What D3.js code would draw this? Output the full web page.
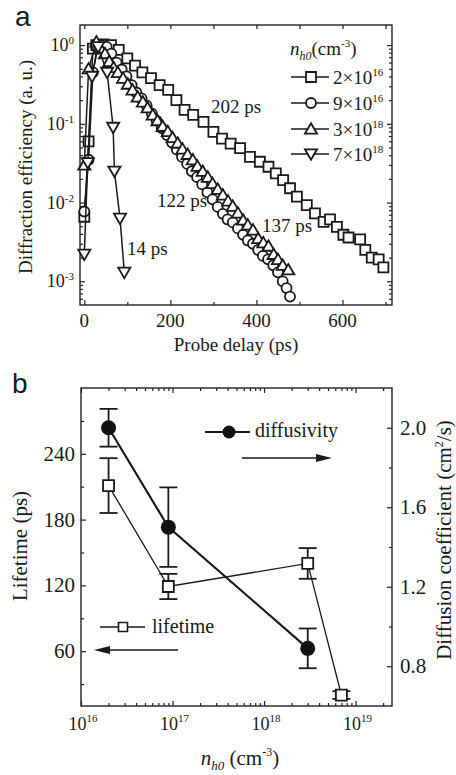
<!DOCTYPE html>
<html>
<head>
<meta charset="utf-8">
<script src="https://cdn.jsdelivr.net/npm/d3@7"></script>
<style>
  body { margin: 0; background: #fff; }
  .domain { display: none; }
  .tick line { stroke: #222; stroke-width: 1.2; }
</style>
</head>
<body>
<svg id="chart" width="456" height="775" font-family="Liberation Serif"></svg>
<script>
// ---- panel a: diffraction efficiency vs probe delay ----
var sqDelay = [0, 10, 20, 28, 45, 62, 80, 100, 118, 135, 155, 175, 195, 214, 233, 253, 277, 300, 320, 340, 362, 385, 408, 428, 445, 462, 478, 494, 517, 536, 556, 571, 587, 602, 614, 641, 653, 668, 684, 695];
var sqEff = [0.0066, 0.06, 0.9, 1.0, 1.02, 1.0, 0.87, 0.68, 0.55, 0.45, 0.38, 0.31, 0.27, 0.2, 0.15, 0.13, 0.106, 0.079, 0.065, 0.056, 0.049, 0.038, 0.033, 0.0285, 0.0235, 0.0193, 0.0152, 0.0119, 0.0093, 0.0073, 0.0057, 0.0061, 0.0049, 0.0039, 0.0036, 0.0034, 0.0025, 0.002, 0.0019, 0.0015];

var ciDelay = [0, 10, 20, 30, 40, 52, 63, 75, 87, 98, 110, 121, 133, 145, 157, 168, 180, 192, 204, 215, 227, 239, 250, 262, 274, 286, 298, 310, 322, 333, 345, 357, 369, 380, 392, 404, 415, 427, 439, 450, 461, 470, 478];
var ciEff = [0.0077, 0.035, 0.45, 0.95, 1.0, 0.95, 0.78, 0.6, 0.49, 0.4, 0.31, 0.25, 0.21, 0.17, 0.135, 0.11, 0.088, 0.072, 0.058, 0.047, 0.038, 0.031, 0.025, 0.021, 0.017, 0.0135, 0.011, 0.0088, 0.0072, 0.0061, 0.0056, 0.0047, 0.0039, 0.0033, 0.003, 0.0025, 0.0021, 0.0019, 0.0016, 0.0013, 0.001, 0.00082, 0.00064];

var upDelay = [0, 10, 28, 38, 48, 58, 68, 78, 90, 101, 112, 124, 136, 147, 159, 170, 182, 194, 205, 217, 228, 240, 252, 263, 275, 287, 298, 310, 322, 334, 345, 357, 369, 380, 392, 404, 416, 428, 440, 450, 461, 474];
var upEff = [0.03, 0.5, 1.1, 0.9, 0.78, 0.62, 0.52, 0.45, 0.38, 0.32, 0.27, 0.22, 0.19, 0.16, 0.13, 0.11, 0.093, 0.08, 0.067, 0.057, 0.048, 0.041, 0.035, 0.029, 0.025, 0.021, 0.0175, 0.0148, 0.0125, 0.0105, 0.009, 0.0074, 0.006, 0.0052, 0.0045, 0.0035, 0.0031, 0.0028, 0.0022, 0.0019, 0.0016, 0.0014];

var dnDelay = [0, 8, 18, 32, 53, 67, 70, 83, 93];
var dnEff = [0.0022, 0.032, 0.4, 0.95, 0.45, 0.09, 0.025, 0.0063, 0.0013];

var densityMant = ["2", "9", "3", "7"];
var densityExp = ["16", "16", "18", "18"];
var decayLabels = ["202 ps", "122 ps", "137 ps", "14 ps"];
var delayTicks = [0, 200, 400, 600];
var effTicks = [1, 0.1, 0.01, 0.001];
var effExp = ["0", "-1", "-2", "-3"];

// ---- panel b: lifetime and diffusivity vs density ----
var density = [2e16, 9e16, 3e18, 7e18];
var lifetime = [211, 119, 140, 20];
var lifetimeErr = [25, 11.5, 14, 3.5];
var diffDensity = [2e16, 9e16, 3e18];
var diffusivity = [2.0, 1.5, 0.89];
var diffusivityErr = [0.095, 0.2, 0.1];
var lifeTicks = [60, 120, 180, 240];
var diffTicks = [0.8, 1.2, 1.6, 2.0];
var densTicks = [1e16, 1e17, 1e18, 1e19];
var densExp = ["16", "17", "18", "19"];

var svg = d3.select("#chart");
var ink = "#1a1a1a";
var serif = "Liberation Serif";

function sup(sel, base, exp, size, supSize, dy) {
  sel.append("tspan").text(base);
  sel.append("tspan").attr("dy", -dy).style("font-size", supSize + "px").text(exp);
}

function markPath(kind, s) {
  var h = s / 2;
  if (kind == "up") return "M0," + (-h * 1.05) + "L" + h * 1.1 + "," + h * 0.85 + "L" + (-h * 1.1) + "," + h * 0.85 + "Z";
  if (kind == "down") return "M0," + (h * 1.05) + "L" + h * 1.1 + "," + (-h * 0.85) + "L" + (-h * 1.1) + "," + (-h * 0.85) + "Z";
  if (kind == "square") return "M" + (-h) + "," + (-h) + "h" + s + "v" + s + "h" + (-s) + "Z";
  return d3.symbol().type(d3.symbolCircle).size(Math.PI * h * h)();
}

// ================= panel a =================
var ax = { l: 80, r: 392, t: 25, b: 305 };
var x = d3.scaleLinear().domain([-10, 715]).range([ax.l, ax.r]);
var y = d3.scaleLog().domain([5e-4, 1.8]).range([ax.b, ax.t]);

var minorA = [];
[1e-4, 1e-3, 1e-2, 1e-1, 1].forEach(function(d) {
  for (var k = 2; k < 10; k++) { var v = d * k; if (v > 5e-4 && v < 1.8) minorA.push(v); }
});

svg.append("g").attr("transform", "translate(0," + ax.b + ")")
  .call(d3.axisBottom(x).tickValues(delayTicks).tickSize(-5).tickFormat(""));
svg.append("g").attr("transform", "translate(0," + ax.b + ")")
  .call(d3.axisBottom(x).tickValues([100, 300, 500, 700]).tickSize(-3).tickFormat(""));
svg.append("g").attr("transform", "translate(0," + ax.t + ")")
  .call(d3.axisTop(x).tickValues([0, 100, 200, 300, 400, 500, 600, 700]).tickSize(-4).tickFormat(""));
[[ax.l, d3.axisLeft, -5, -3], [ax.r, d3.axisRight, -5, -3]].forEach(function(s) {
  svg.append("g").attr("transform", "translate(" + s[0] + ",0)")
    .call(s[1](y).tickValues(effTicks).tickSize(s[2]).tickFormat(""));
  svg.append("g").attr("transform", "translate(" + s[0] + ",0)")
    .call(s[1](y).tickValues(minorA).tickSize(s[3]).tickFormat(""));
});
svg.append("rect").attr("x", ax.l).attr("y", ax.t).attr("width", ax.r - ax.l).attr("height", ax.b - ax.t)
  .attr("fill", "none").attr("stroke", "#222").attr("stroke-width", 1.4);

svg.selectAll(".xla").data(delayTicks).enter().append("text")
  .attr("x", d => x(d)).attr("y", 326.5).attr("text-anchor", "middle")
  .style("font-size", "19px").text(d => d);
effTicks.forEach(function(d, i) {
  var t = svg.append("text").attr("x", 74).attr("y", y(d) + 6).attr("text-anchor", "end").style("font-size", "18px");
  sup(t, "10", effExp[i], 18, 11, 7);
});
svg.append("text").attr("x", 236).attr("y", 351).attr("text-anchor", "middle")
  .style("font-size", "19px").text("Probe delay (ps)");
svg.append("text").attr("transform", "translate(32,167) rotate(-90)").attr("text-anchor", "middle")
  .style("font-size", "19px").text("Diffraction efficiency (a. u.)");

var seriesA = [
  { t: sqDelay, v: sqEff, kind: "square", s: 10 },
  { t: ciDelay, v: ciEff, kind: "circle", s: 10 },
  { t: upDelay, v: upEff, kind: "up", s: 11 },
  { t: dnDelay, v: dnEff, kind: "down", s: 11 }
];
var lineA = d3.line().x(d => x(d[0])).y(d => y(d[1]));
seriesA.forEach(function(s) {
  var pts = s.t.map((t, i) => [t, s.v[i]]);
  svg.append("path").datum(pts).attr("d", lineA).attr("fill", "none").attr("stroke", ink).attr("stroke-width", 1.5);
  svg.selectAll(null).data(pts).enter().append("path")
    .attr("transform", d => "translate(" + x(d[0]) + "," + y(d[1]) + ")")
    .attr("d", markPath(s.kind, s.s)).attr("fill", "#fff").attr("stroke", ink).attr("stroke-width", 1.8);
});

// decay time labels
[[211, 113], [157, 207], [262, 232], [127, 255]].forEach(function(p, i) {
  svg.append("text").attr("x", p[0]).attr("y", p[1]).style("font-size", "19px").text(decayLabels[i]);
});

// legend a
var lt = svg.append("text").attr("x", 290).attr("y", 55).style("font-size", "19px");
lt.append("tspan").style("font-style", "italic").text("n");
lt.append("tspan").attr("dy", 5).style("font-style", "italic").style("font-size", "12px").text("h0");
lt.append("tspan").attr("dy", -5).text("(cm");
lt.append("tspan").attr("dy", -8).style("font-size", "11px").text("-3");
lt.append("tspan").attr("dy", 8).text(")");
var legY = [77, 103, 129, 154];
seriesA.forEach(function(s, i) {
  svg.append("line").attr("x1", 291).attr("x2", 329).attr("y1", legY[i]).attr("y2", legY[i])
    .attr("stroke", ink).attr("stroke-width", 1.5);
  svg.append("path").attr("transform", "translate(311," + legY[i] + ")")
    .attr("d", markPath(s.kind, s.s)).attr("fill", "#fff").attr("stroke", ink).attr("stroke-width", 1.8);
  var t = svg.append("text").attr("x", 333).attr("y", legY[i] + 6.5).style("font-size", "19px");
  sup(t, densityMant[i] + "\u00d710", densityExp[i], 19, 11, 8);
});

// ================= panel b =================
var bx = { l: 81, r: 392, t: 388, b: 706 };
var xb = d3.scaleLog().domain([1e16, 2.5e19]).range([bx.l, bx.r]);
var yl = d3.scaleLinear().domain([10, 300]).range([bx.b, bx.t]);
var yr = d3.scaleLinear().domain([0.6, 2.2]).range([bx.b, bx.t]);

var minorB = [];
[1e16, 1e17, 1e18, 1e19].forEach(function(d) {
  for (var k = 2; k < 10; k++) { var v = d * k; if (v < 2.5e19) minorB.push(v); }
});
[[bx.b, d3.axisBottom], [bx.t, d3.axisTop]].forEach(function(s) {
  svg.append("g").attr("transform", "translate(0," + s[0] + ")")
    .call(s[1](xb).tickValues(densTicks).tickSize(-5).tickFormat(""));
  svg.append("g").attr("transform", "translate(0," + s[0] + ")")
    .call(s[1](xb).tickValues(minorB).tickSize(-3).tickFormat(""));
});
svg.append("g").attr("transform", "translate(" + bx.l + ",0)")
  .call(d3.axisLeft(yl).tickValues(lifeTicks).tickSize(-5).tickFormat(""));
svg.append("g").attr("transform", "translate(" + bx.l + ",0)")
  .call(d3.axisLeft(yl).tickValues([30, 90, 150, 210, 270]).tickSize(-3).tickFormat(""));
svg.append("g").attr("transform", "translate(" + bx.r + ",0)")
  .call(d3.axisRight(yr).tickValues(diffTicks).tickSize(-5).tickFormat(""));
svg.append("g").attr("transform", "translate(" + bx.r + ",0)")
  .call(d3.axisRight(yr).tickValues([1.0, 1.4, 1.8]).tickSize(-3).tickFormat(""));
svg.append("rect").attr("x", bx.l).attr("y", bx.t).attr("width", bx.r - bx.l).attr("height", bx.b - bx.t)
  .attr("fill", "none").attr("stroke", "#222").attr("stroke-width", 1.4);

densTicks.forEach(function(d, i) {
  var t = svg.append("text").attr("x", xb(d) + 2).attr("y", 730).attr("text-anchor", "middle").style("font-size", "18px");
  sup(t, "10", densExp[i], 18, 11, 8);
});
svg.selectAll(".yl").data(lifeTicks).enter().append("text")
  .attr("x", 75).attr("y", d => yl(d) + 7).attr("text-anchor", "end").style("font-size", "21px").text(d => d);
svg.selectAll(".yr").data(diffTicks).enter().append("text")
  .attr("x", 400).attr("y", d => yr(d) + 7).style("font-size", "21px").text(d => d.toFixed(1));

var xt = svg.append("text").attr("x", 240).attr("y", 765).attr("text-anchor", "middle").style("font-size", "21px");
xt.append("tspan").style("font-style", "italic").text("n");
xt.append("tspan").attr("dy", 5).style("font-style", "italic").style("font-size", "13px").text("h0");
xt.append("tspan").attr("dy", -5).text(" (cm");
xt.append("tspan").attr("dy", -9).style("font-size", "12px").text("-3");
xt.append("tspan").attr("dy", 9).text(")");
svg.append("text").attr("transform", "translate(27,546) rotate(-90)").attr("text-anchor", "middle")
  .style("font-size", "21px").text("Lifetime (ps)");
var rt = svg.append("text").attr("transform", "translate(451,540) rotate(-90)").attr("text-anchor", "middle")
  .style("font-size", "21px");
rt.append("tspan").text("Diffusion coefficient (cm");
rt.append("tspan").attr("dy", -8).style("font-size", "12px").text("2");
rt.append("tspan").attr("dy", 8).text("/s)");

// lifetime and diffusivity series
var lifePts = density.map((d, i) => [d, lifetime[i], lifetimeErr[i]]);
var diffPts = diffDensity.map((d, i) => [d, diffusivity[i], diffusivityErr[i]]);
svg.append("path").datum(lifePts).attr("d", d3.line().x(d => xb(d[0])).y(d => yl(d[1])))
  .attr("fill", "none").attr("stroke", ink).attr("stroke-width", 1.3);
svg.append("path").datum(diffPts).attr("d", d3.line().x(d => xb(d[0])).y(d => yr(d[1])))
  .attr("fill", "none").attr("stroke", ink).attr("stroke-width", 2.2);

function errBars(pts, ys) {
  pts.forEach(function(d) {
    var cx = xb(d[0]), y1 = ys(d[1] - d[2]), y2 = ys(d[1] + d[2]);
    var g = svg.append("g").attr("stroke", ink).attr("stroke-width", 1.8);
    g.append("line").attr("x1", cx).attr("x2", cx).attr("y1", y1).attr("y2", y2);
    g.append("line").attr("x1", cx - 9).attr("x2", cx + 9).attr("y1", y1).attr("y2", y1);
    g.append("line").attr("x1", cx - 9).attr("x2", cx + 9).attr("y1", y2).attr("y2", y2);
  });
}
errBars(lifePts, yl);
errBars(diffPts, yr);

svg.selectAll(null).data(lifePts).enter().append("path")
  .attr("transform", d => "translate(" + xb(d[0]) + "," + yl(d[1]) + ")")
  .attr("d", markPath("square", 11)).attr("fill", "#fff").attr("stroke", ink).attr("stroke-width", 1.8);
svg.selectAll(null).data(diffPts).enter().append("circle")
  .attr("cx", d => xb(d[0])).attr("cy", d => yr(d[1])).attr("r", 7.5).attr("fill", "#111");

// legend b
svg.append("line").attr("x1", 205).attr("x2", 250).attr("y1", 432).attr("y2", 432).attr("stroke", ink).attr("stroke-width", 2.2);
svg.append("circle").attr("cx", 229).attr("cy", 432).attr("r", 6.5).attr("fill", "#111");
svg.append("text").attr("x", 255).attr("y", 437).style("font-size", "20px").text("diffusivity");
svg.append("line").attr("x1", 242).attr("x2", 318).attr("y1", 458).attr("y2", 458).attr("stroke", ink).attr("stroke-width", 1.4);
svg.append("path").attr("d", "M332,458L316,454L316,462Z").attr("fill", ink);

svg.append("line").attr("x1", 100).attr("x2", 145).attr("y1", 627).attr("y2", 627).attr("stroke", ink).attr("stroke-width", 1.4);
svg.append("path").attr("transform", "translate(123,627)").attr("d", markPath("square", 9))
  .attr("fill", "#fff").attr("stroke", ink).attr("stroke-width", 1.6);
svg.append("text").attr("x", 152).attr("y", 633).style("font-size", "20px").text("lifetime");
svg.append("line").attr("x1", 108).attr("x2", 178).attr("y1", 650).attr("y2", 650).attr("stroke", ink).attr("stroke-width", 1.4);
svg.append("path").attr("d", "M94,650L110,646L110,654Z").attr("fill", ink);

// serif everywhere, then the sans panel letters
svg.selectAll("text").attr("font-family", serif).style("font-family", serif).attr("fill", ink);
svg.append("text").attr("x", 15).attr("y", 26).attr("font-family", "Liberation Sans")
  .attr("font-size", 28).attr("fill", ink).text("a");
svg.append("text").attr("x", 12).attr("y", 393).attr("font-family", "Liberation Sans")
  .attr("font-size", 28).attr("fill", ink).text("b");
</script>
</body>
</html>
